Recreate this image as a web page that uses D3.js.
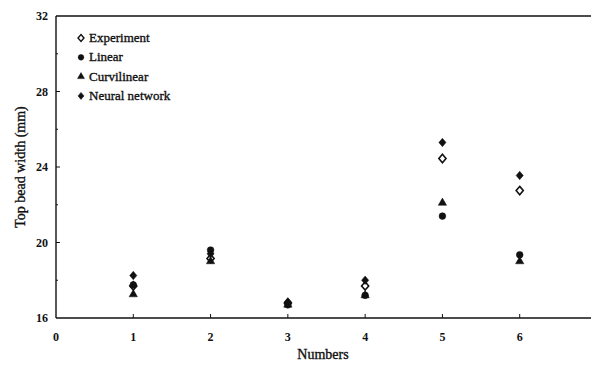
<!DOCTYPE html>
<html>
<head>
<meta charset="utf-8">
<script src="https://cdn.jsdelivr.net/npm/d3@7"></script>
<style>
  body { margin: 0; background: #fff; }
  text { font-family: "Liberation Serif", "Times New Roman", serif; fill: #111; }
  .heavy { stroke: #111; stroke-width: 0.35px; }
</style>
</head>
<body>
<script>
const numbers = [1, 2, 3, 4, 5, 6];
const experiment = [17.7, 19.15, 16.8, 17.7, 24.45, 22.75];
const linear = [17.75, 19.6, 16.7, 17.2, 21.4, 19.35];
const curvilinear = [17.25, 19.0, 16.7, 17.2, 22.1, 19.0];
const neural = [18.25, 19.4, 16.85, 18.0, 25.3, 23.55];
const yTicks = [16, 20, 24, 28, 32];
const xTicks = [0, 1, 2, 3, 4, 5, 6];

// fat rhombus, a bit wider than d3's own diamond
const rhombus = {
  draw(context, size) {
    const h = Math.sqrt(size / 1.7), w = h * 0.85;
    context.moveTo(0, -h);
    context.lineTo(w, 0);
    context.lineTo(0, h);
    context.lineTo(-w, 0);
    context.closePath();
  }
};

const series = [
  { name: 'Experiment', values: experiment, type: rhombus, size: 30, hollow: true },
  { name: 'Linear', values: linear, type: d3.symbolCircle, size: 36 },
  { name: 'Curvilinear', values: curvilinear, type: d3.symbolTriangle, size: 30 },
  { name: 'Neural network', values: neural, type: rhombus, size: 30 }
];

const W = 591, H = 367;
const svg = d3.select('body').append('svg').attr('width', W).attr('height', H);

const x = d3.scaleLinear().domain([0, 7]).range([56, 597]);
const y = d3.scaleLinear().domain([16, 32]).range([318, 16]);

// frame: left, bottom, top
const frame = svg.append('g').attr('stroke', '#111').attr('stroke-width', 1.4);
frame.append('line').attr('x1', x(0)).attr('x2', x(0)).attr('y1', y(32)).attr('y2', y(16));
frame.append('line').attr('x1', x(0)).attr('x2', W).attr('y1', y(16)).attr('y2', y(16));
frame.append('line').attr('x1', x(0)).attr('x2', W).attr('y1', y(32)).attr('y2', y(32));

// y ticks inward
svg.append('g').selectAll('line')
  .data(d3.range(18, 32, 2))
  .join('line')
  .attr('x1', x(0)).attr('x2', d => x(0) + (d % 4 === 0 ? 4 : 2))
  .attr('y1', d => y(d)).attr('y2', d => y(d))
  .attr('stroke', '#111').attr('stroke-width', 1);

svg.append('g').selectAll('text')
  .data(yTicks)
  .join('text')
  .attr('x', 48).attr('y', d => y(d) + 4)
  .attr('text-anchor', 'end')
  .attr('font-size', 12).attr('font-weight', 'bold')
  .text(d => d);

// x ticks inward
svg.append('g').selectAll('line')
  .data(numbers)
  .join('line')
  .attr('x1', d => x(d)).attr('x2', d => x(d))
  .attr('y1', y(16)).attr('y2', y(16) - 4)
  .attr('stroke', '#111').attr('stroke-width', 1);

svg.append('g').selectAll('text')
  .data(xTicks)
  .join('text')
  .attr('x', d => x(d)).attr('y', 341)
  .attr('text-anchor', 'middle')
  .attr('font-size', 12).attr('font-weight', 'bold')
  .text(d => d);

svg.append('text')
  .attr('x', 323).attr('y', 359)
  .attr('text-anchor', 'middle')
  .attr('font-size', 14)
  .attr('class', 'heavy')
  .text('Numbers');

svg.append('text')
  .attr('transform', 'translate(25,' + y(24) + ') rotate(-90)')
  .attr('text-anchor', 'middle')
  .attr('font-size', 14)
  .attr('class', 'heavy')
  .text('Top bead width (mm)');

// points
const sym = d3.symbol();
series.forEach(s => {
  svg.append('g').selectAll('path')
    .data(numbers)
    .join('path')
    .attr('d', sym.type(s.type).size(s.size)())
    .attr('transform', (d, i) => 'translate(' + x(d) + ',' + y(s.values[i]) + ')')
    .attr('fill', s.hollow ? '#fff' : '#111')
    .attr('stroke', '#111')
    .attr('stroke-width', s.hollow ? 1.6 : 0.5);
});

// legend
const lg = svg.append('g').attr('transform', 'translate(81,38)');
const row = lg.selectAll('g')
  .data(series)
  .join('g')
  .attr('transform', (d, i) => 'translate(0,' + i * 19.3 + ')');
row.append('path')
  .attr('d', d => d3.symbol().type(d.type).size(d.size * 0.7)())
  .attr('fill', d => d.hollow ? '#fff' : '#111')
  .attr('stroke', '#111')
  .attr('stroke-width', d => d.hollow ? 1.4 : 0.5);
row.append('text')
  .attr('x', 8).attr('y', 4)
  .attr('font-size', 13)
  .attr('class', 'heavy')
  .text(d => d.name);
</script>
</body>
</html>
